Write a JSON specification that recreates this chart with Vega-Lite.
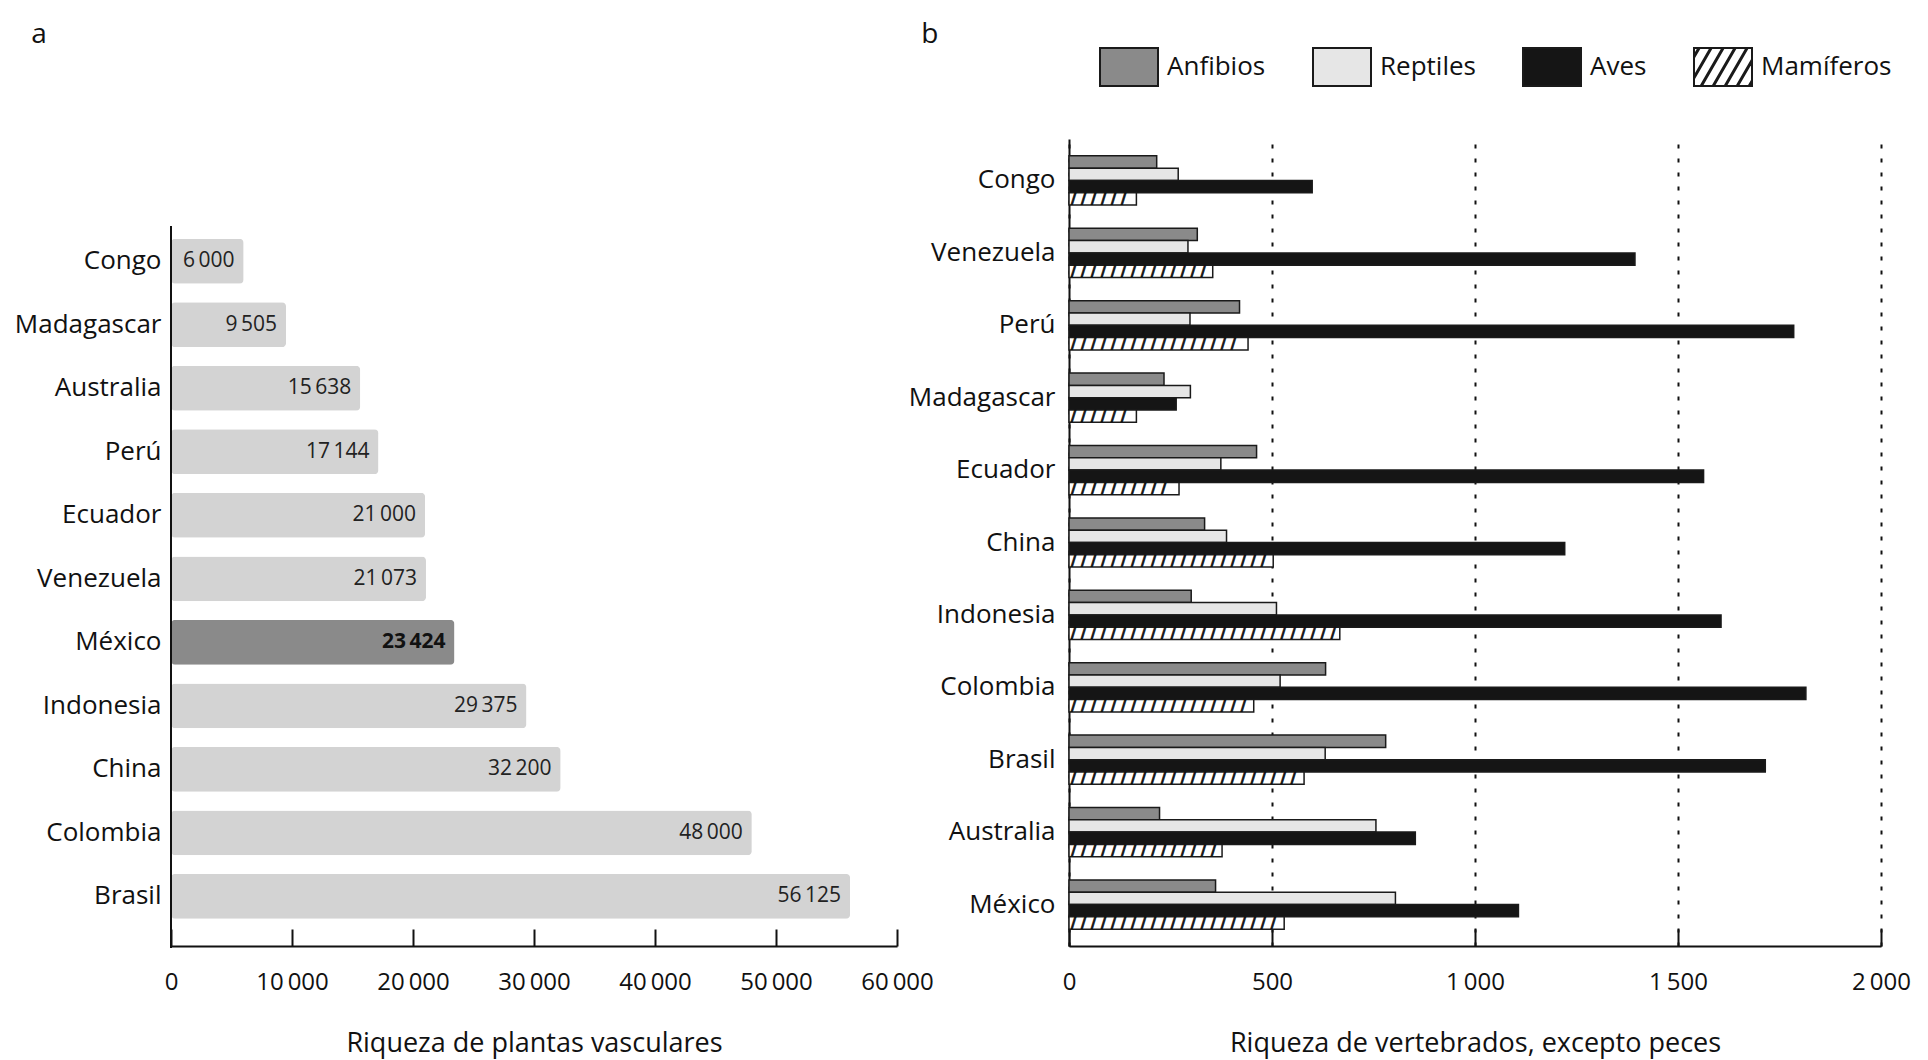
{
  "$schema": "https://vega.github.io/schema/vega-lite/v6.json",
  "padding": {"left": 14, "top": 21, "right": 20, "bottom": 4},
  "background": "white",
  "spacing": 172,
  "bounds": "flush",
  "config": {
    "view": {"stroke": null},
    "font": "Open Sans",
    "locale": {"number": {"decimal": ",", "thousands": "\u2009", "grouping": [3], "currency": ["", ""]}},
    "axis": {"labelFont": "Open Sans", "titleFont": "Open Sans", "labelColor": "#111", "titleColor": "#111", "domainColor": "#111", "tickColor": "#111", "titleFontWeight": "normal", "labelFlush": false}
  },
  "resolve": {"legend": {"fill": "independent", "shape": "independent", "stroke": "independent"}},
  "hconcat": [
    {
      "width": 726,
      "height": 807,
      "title": {"text": "a", "anchor": "start", "frame": "bounds", "fontSize": 28, "fontWeight": "normal", "font": "Open Sans", "color": "#111", "offset": 90, "dx": 17},
      "data": {"values": [
        {"country": "Congo", "value": 6000},
        {"country": "Madagascar", "value": 9505},
        {"country": "Australia", "value": 15638},
        {"country": "Perú", "value": 17144},
        {"country": "Ecuador", "value": 21000},
        {"country": "Venezuela", "value": 21073},
        {"country": "México", "value": 23424},
        {"country": "Indonesia", "value": 29375},
        {"country": "China", "value": 32200},
        {"country": "Colombia", "value": 48000},
        {"country": "Brasil", "value": 56125}
      ]},
      "encoding": {
        "y": {"field": "country", "type": "nominal", "sort": ["Congo", "Madagascar", "Australia", "Perú", "Ecuador", "Venezuela", "México", "Indonesia", "China", "Colombia", "Brasil"],
          "scale": {"paddingInner": 0.293, "paddingOuter": 1.056, "align": 0.786},
          "axis": {"title": null, "domain": false, "ticks": false, "labelFontSize": 26, "labelPadding": 10}},
        "x": {"field": "value", "type": "quantitative", "scale": {"domain": [0, 60000]},
          "axis": {"title": "Riqueza de plantas vasculares", "values": [0, 10000, 20000, 30000, 40000, 50000, 60000], "format": ",d", "grid": false, "domainWidth": 2, "tickWidth": 2, "tickSize": -17, "labelPadding": 41, "labelFontSize": 24, "titleFontSize": 27, "titlePadding": 36}}
      },
      "layer": [
        {"mark": {"type": "bar", "cornerRadius": 4},
          "encoding": {"color": {"condition": {"test": "datum.country === 'México'", "value": "#8a8a8a"}, "value": "#d3d3d3"}}},
        {"transform": [{"filter": "datum.country !== 'México'"}],
          "mark": {"type": "text", "align": "right", "baseline": "middle", "dx": -9, "fontSize": 21, "color": "#222", "font": "Open Sans"},
          "encoding": {"text": {"field": "value", "type": "quantitative", "format": ",d"}}},
        {"transform": [{"filter": "datum.country === 'México'"}],
          "mark": {"type": "text", "align": "right", "baseline": "middle", "dx": -9, "fontSize": 21, "color": "#111", "font": "Open Sans", "fontWeight": "bold"},
          "encoding": {"text": {"field": "value", "type": "quantitative", "format": ",d"}}},
        {"mark": {"type": "rule", "color": "#111", "strokeWidth": 2},
          "encoding": {"x": {"datum": 0}, "y": {"datum": "Congo", "bandPosition": -0.28}, "y2": {"datum": "Brasil", "bandPosition": 1.64}}}
      ]
    },
    {
      "width": 812,
      "height": 807,
      "title": {"text": "b", "anchor": "start", "frame": "bounds", "fontSize": 28, "fontWeight": "normal", "font": "Open Sans", "color": "#111", "offset": -12, "dx": 13},
      "data": {"values": [
        {"country": "Congo", "group": "Anfibios", "value": 216},
        {"country": "Congo", "group": "Reptiles", "value": 269},
        {"country": "Congo", "group": "Aves", "value": 599},
        {"country": "Congo", "group": "Mamíferos", "value": 166},
        {"country": "Venezuela", "group": "Anfibios", "value": 316},
        {"country": "Venezuela", "group": "Reptiles", "value": 293},
        {"country": "Venezuela", "group": "Aves", "value": 1394},
        {"country": "Venezuela", "group": "Mamíferos", "value": 354},
        {"country": "Perú", "group": "Anfibios", "value": 420},
        {"country": "Perú", "group": "Reptiles", "value": 298},
        {"country": "Perú", "group": "Aves", "value": 1785},
        {"country": "Perú", "group": "Mamíferos", "value": 441},
        {"country": "Madagascar", "group": "Anfibios", "value": 234},
        {"country": "Madagascar", "group": "Reptiles", "value": 299},
        {"country": "Madagascar", "group": "Aves", "value": 264},
        {"country": "Madagascar", "group": "Mamíferos", "value": 166},
        {"country": "Ecuador", "group": "Anfibios", "value": 462},
        {"country": "Ecuador", "group": "Reptiles", "value": 374},
        {"country": "Ecuador", "group": "Aves", "value": 1563},
        {"country": "Ecuador", "group": "Mamíferos", "value": 271},
        {"country": "China", "group": "Anfibios", "value": 334},
        {"country": "China", "group": "Reptiles", "value": 388},
        {"country": "China", "group": "Aves", "value": 1221},
        {"country": "China", "group": "Mamíferos", "value": 503},
        {"country": "Indonesia", "group": "Anfibios", "value": 301},
        {"country": "Indonesia", "group": "Reptiles", "value": 511},
        {"country": "Indonesia", "group": "Aves", "value": 1606},
        {"country": "Indonesia", "group": "Mamíferos", "value": 667},
        {"country": "Colombia", "group": "Anfibios", "value": 632},
        {"country": "Colombia", "group": "Reptiles", "value": 520},
        {"country": "Colombia", "group": "Aves", "value": 1815},
        {"country": "Colombia", "group": "Mamíferos", "value": 455},
        {"country": "Brasil", "group": "Anfibios", "value": 780},
        {"country": "Brasil", "group": "Reptiles", "value": 631},
        {"country": "Brasil", "group": "Aves", "value": 1715},
        {"country": "Brasil", "group": "Mamíferos", "value": 579},
        {"country": "Australia", "group": "Anfibios", "value": 223},
        {"country": "Australia", "group": "Reptiles", "value": 756},
        {"country": "Australia", "group": "Aves", "value": 853},
        {"country": "Australia", "group": "Mamíferos", "value": 377},
        {"country": "México", "group": "Anfibios", "value": 361},
        {"country": "México", "group": "Reptiles", "value": 804},
        {"country": "México", "group": "Aves", "value": 1107},
        {"country": "México", "group": "Mamíferos", "value": 530}
      ]},
      "encoding": {
        "y": {"field": "country", "type": "nominal", "sort": ["Congo", "Venezuela", "Perú", "Madagascar", "Ecuador", "China", "Indonesia", "Colombia", "Brasil", "Australia", "México"],
          "scale": {"paddingInner": 0.32, "paddingOuter": 0.233},
          "axis": {"title": null, "ticks": false, "domainWidth": 2, "labelFontSize": 26, "labelPadding": 14}},
        "yOffset": {"field": "group", "type": "nominal", "sort": ["Anfibios", "Reptiles", "Aves", "Mamíferos"], "scale": {"paddingInner": 0, "paddingOuter": 0}},
        "x": {"field": "value", "type": "quantitative", "scale": {"domain": [0, 2000]},
          "axis": {"title": "Riqueza de vertebrados, excepto peces", "values": [0, 500, 1000, 1500, 2000], "format": ",d", "grid": true, "gridDash": [4, 10], "gridColor": "#111", "gridWidth": 2, "domainWidth": 2, "tickWidth": 2, "tickSize": -17, "labelPadding": 41, "labelFontSize": 24, "titleFontSize": 27, "titlePadding": 36}}
      },
      "layer": [
        {"mark": {"type": "bar", "stroke": "#1a1a1a", "strokeWidth": 1.5},
          "encoding": {"color": {"field": "group", "type": "nominal",
            "scale": {"domain": ["Anfibios", "Reptiles", "Aves", "Mamíferos"], "range": ["#8a8a8a", "#e6e6e6", "#151515", "#ffffff"]},
            "legend": null}}},
        {"transform": [{"filter": "datum.group === 'Mamíferos'"}],
          "mark": {"type": "text", "align": "left", "baseline": "middle", "dx": 2, "font": "DejaVu Sans", "fontWeight": "bold", "fontSize": 14, "color": "#111", "stroke": "#111", "strokeWidth": 0.8, "ellipsis": " ", "limit": {"expr": "datum.value * 0.406 - 1"}},
          "encoding": {"x": {"datum": 0}, "text": {"value": "/ / / / / / / / / / / / / / / / / / / / / / / / / / / / / / / / / / / / / / / / "}}},
        {"transform": [{"filter": "false"}],
          "mark": {"type": "point", "filled": true, "opacity": 1, "strokeWidth": 2},
          "encoding": {
            "fill": {"field": "group", "type": "nominal",
              "scale": {"domain": ["Anfibios", "Reptiles", "Aves", "Mamíferos"], "range": ["#8a8a8a", "#e6e6e6", "#151515", "#ffffff"]},
              "legend": {"orient": "none", "legendX": 30, "legendY": -102, "direction": "horizontal", "title": null, "symbolSize": 3364, "symbolStrokeColor": "#1a1a1a", "symbolStrokeWidth": 2, "symbolOpacity": 1, "labelFontSize": 26, "labelFont": "Open Sans", "labelColor": "#111", "labelOffset": 8, "columnPadding": 43, "padding": 0, "labelLimit": 300}},
            "stroke": {"field": "group", "type": "nominal",
              "scale": {"domain": ["Anfibios", "Reptiles", "Aves", "Mamíferos"], "range": ["#1a1a1a", "#1a1a1a", "#1a1a1a", "#1a1a1a"]},
              "legend": {"orient": "none", "legendX": 30, "legendY": -102, "direction": "horizontal", "title": null, "symbolSize": 3364, "symbolStrokeColor": "#1a1a1a", "symbolStrokeWidth": 2, "symbolOpacity": 1, "labelFontSize": 26, "labelFont": "Open Sans", "labelColor": "#111", "labelOffset": 8, "columnPadding": 43, "padding": 0, "labelLimit": 300}},
            "shape": {"field": "group", "type": "nominal",
              "scale": {"domain": ["Anfibios", "Reptiles", "Aves", "Mamíferos"], "range": [
                "M-1,-0.655H1V0.655H-1Z",
                "M-1,-0.655H1V0.655H-1Z",
                "M-1,-0.655H1V0.655H-1Z",
                "M-1,-0.655H1V0.655H-1Z M-1,-0.385L-0.844,-0.655 M-1,-0.315L-0.804,-0.655 M-1,0.333L-0.43,-0.655 M-1,0.402L-0.39,-0.655 M-0.772,0.655L-0.016,-0.655 M-0.732,0.655L0.024,-0.655 M-0.358,0.655L0.398,-0.655 M-0.318,0.655L0.438,-0.655 M0.056,0.655L0.812,-0.655 M0.096,0.655L0.852,-0.655 M0.47,0.655L1,-0.263 M0.51,0.655L1,-0.194 M0.884,0.655L1,0.454 M0.924,0.655L1,0.524"
              ]},
              "legend": {"orient": "none", "legendX": 30, "legendY": -102, "direction": "horizontal", "title": null, "symbolSize": 3364, "symbolStrokeColor": "#1a1a1a", "symbolStrokeWidth": 2, "symbolOpacity": 1, "labelFontSize": 26, "labelFont": "Open Sans", "labelColor": "#111", "labelOffset": 8, "columnPadding": 43, "padding": 0, "labelLimit": 300}}
          }}
      ]
    }
  ]
}
